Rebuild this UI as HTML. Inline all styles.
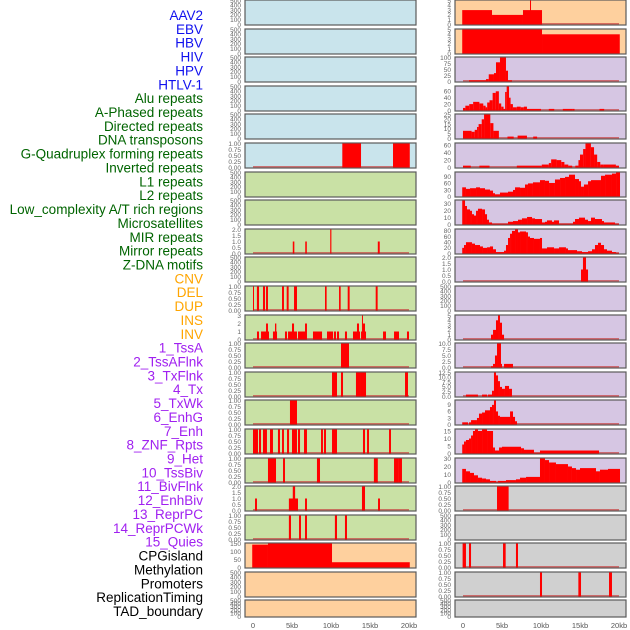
<!DOCTYPE html>
<html><head><meta charset="utf-8">
<style>
html,body{margin:0;padding:0;background:#fff;}
svg{display:block;font-family:"Liberation Sans",sans-serif;}
</style></head>
<body>
<svg id="chart" width="630" height="630" viewBox="0 0 630 630"></svg>
<script>
const labels = ["AAV2","EBV","HBV","HIV","HPV","HTLV-1","Alu repeats","A-Phased repeats","Directed repeats","DNA transposons","G-Quadruplex forming repeats","Inverted repeats","L1 repeats","L2 repeats","Low_complexity A/T rich regions","Microsatellites","MIR repeats","Mirror repeats","Z-DNA motifs","CNV","DEL","DUP","INS","INV","1_TssA","2_TssAFlnk","3_TxFlnk","4_Tx","5_TxWk","6_EnhG","7_Enh","8_ZNF_Rpts","9_Het","10_TssBiv","11_BivFlnk","12_EnhBiv","13_ReprPC","14_ReprPCWk","15_Quies","CPGisland","Methylation","Promoters","ReplicationTiming","TAD_boundary"];
const labelGroups = [0,0,0,0,0,0,1,1,1,1,1,1,1,1,1,1,1,1,1,2,2,2,2,2,3,3,3,3,3,3,3,3,3,3,3,3,3,3,3,4,4,4,4,4];
const groupColors = ["#1010ee","#006400","#ffa500","#a020f0","#000000"];
const trackBg = ["#c9e4ec","#c9e1a5","#fed09e","#d6c6e3","#d0d0d0"];
const xTickValues = [0,5,10,15,20];
const xTickLabels = ["0","5kb","10kb","15kb","20kb"];
const emptyTicks = ["0","100","200","300","400","500"];
const t01 = ["0.00","0.25","0.50","0.75","1.00"];
const t02 = ["0.0","0.5","1.0","1.5","2.0"];
const t05 = ["0","1","2","3","4","5"];

// left column tracks 0..21, right column tracks 22..43; segments [startKb,endKb,value]
const segHTLV1 = [[11.45,13.85,1],[17.95,20.1,1]];
const segDirected = [[5.1,5.3,1],[6.7,6.9,1],[9.9,10.05,2],[16.0,16.25,1]];
const segGQuad = [[0,0.1,1],[0.5,0.77,1],[1.28,1.54,1],[1.67,1.92,1],[3.72,3.97,1],[4.32,4.57,1],[5.26,5.64,1],[9.23,9.44,1],[11.03,11.24,1],[12.14,12.39,1],[15.73,15.98,1]];
const segInverted = [[0.51,0.77,1],[1.03,2.05,1],[1.67,1.92,2],[2.56,3.08,1],[2.82,2.99,2],[4.1,4.36,1],[4.49,5.64,1],[5.0,5.26,2],[5.77,6.79,1],[6.67,6.92,2],[7.69,8.85,1],[9.49,9.74,1],[9.74,10.26,1],[10.38,10.64,1],[10.77,11.03,1],[11.79,12.05,1],[12.82,13.72,1],[13.33,13.59,2],[13.85,14.49,1],[14.1,14.36,2],[13.97,14.1,3],[16.67,17.05,1],[18.08,18.72,1],[19.74,20,1]];
const segL1 = [[11.28,12.31,1]];
const segL2 = [[10.13,10.77,1],[11.28,11.54,1],[13.2,13.72,1],[13.72,14.49,1],[19.49,19.87,1]];
const segLowComp = [[4.74,5.64,1]];
const segMicrosat = [[0,0.13,1],[0.13,0.64,1],[0.77,1.03,1],[1.28,1.79,1],[2.18,2.56,1],[3.2,3.46,1],[3.72,3.97,1],[4.36,4.62,1],[5.0,5.64,1],[5.77,6.03,1],[6.54,6.92,1],[8.72,8.97,1],[9.1,9.36,1],[10.13,10.77,1],[14.1,14.36,1],[14.62,14.87,1],[17.44,17.69,1]];
const segMIR = [[1.92,2.95,1],[3.85,4.1,1],[8.2,8.59,1],[15.5,16.0,1],[18.08,18.6,1],[18.6,19.1,1]];
const segMirror = [[0.26,0.51,1],[4.6,5.77,1],[5.1,5.4,2],[6.67,6.92,1],[13.97,14.36,2],[16.03,16.28,1]];
const segZDNA = [[4.6,4.87,1],[5.9,6.15,1],[6.67,6.92,1],[10.5,10.77,1],[11.79,12.05,1]];
const segCNV = [[-0.1,1.92,143],[1.92,10.13,150],[10.13,20.1,33]];
const segINS = [[-0.1,3.72,3],[3.72,7.69,2],[7.69,10.13,3],[8.59,8.72,5]];
const segINV = [[-0.1,10.13,5],[10.13,20.1,4]];
const segTssA = [[0.77,2.95,5],[2.95,3.3,10],[3.3,3.97,30],[3.97,4.23,35],[4.23,4.74,80],[4.74,5.51,100],[5.51,5.77,45],[5.77,6.28,5]];
const segTssAFlnk = [[0,0.3,8],[0.3,0.8,15],[0.8,1.3,20],[1.3,2.1,27],[2.1,2.6,22],[2.6,2.9,15],[2.9,3.1,10],[3.1,3.4,25],[3.4,3.8,32],[3.8,4.2,55],[4.2,4.6,60],[4.6,4.9,22],[4.9,5.2,12],[5.2,5.4,5],[5.4,5.6,58],[5.6,5.9,75],[5.9,6.1,40],[6.1,6.4,20],[6.4,6.9,10],[6.9,7.4,12],[7.4,7.8,10],[7.8,8.2,12],[8.2,10.0,5],[11.0,11.7,5],[12.8,14.0,5],[14.0,14.3,5],[17.5,18.1,5]];
const segTxFlnk = [[0,1.1,8],[1.1,1.5,7],[1.5,1.8,9],[1.8,2.0,12],[2.0,2.4,15],[2.4,2.7,20],[2.7,3.5,25],[3.5,3.9,16],[3.9,4.6,8],[5.7,6.5,2],[7.0,8.2,3],[9.0,9.5,2]];
const segTx = [[0,1.0,5],[2.1,3.4,5],[6.9,10.1,5],[10.1,11.0,8],[11.0,11.3,12],[11.3,12.0,22],[12.0,12.6,20],[12.6,13.0,15],[13.0,13.5,8],[13.5,14.0,5],[14.4,14.8,5],[14.8,15.0,20],[15.0,15.4,35],[15.4,15.7,50],[15.7,16.4,65],[16.4,16.8,55],[16.8,17.2,35],[17.2,17.6,15],[17.6,18.0,8],[18.0,19.6,8],[19.6,20.0,5]];
const segTxWk = [[-0.1,0.38,42],[0.38,0.9,35],[0.9,1.67,38],[1.67,2.18,42],[2.18,2.82,38],[2.82,3.46,32],[3.46,3.85,27],[3.85,4.1,15],[4.1,4.74,10],[4.74,5.77,18],[5.77,6.41,22],[6.41,6.67,30],[6.67,7.31,42],[7.31,7.95,40],[7.95,8.33,55],[8.33,8.97,60],[8.97,9.87,65],[9.87,10.51,75],[10.51,11.03,72],[11.03,11.79,62],[11.79,12.44,78],[12.44,13.08,85],[13.08,13.59,90],[13.59,14.36,100],[14.36,14.87,80],[14.87,15.13,70],[15.13,15.51,45],[15.51,16.03,55],[16.03,16.41,70],[16.41,17.69,75],[17.69,18.21,95],[18.21,19.1,100],[19.1,19.62,105],[19.62,20.13,110]];
const segEnhG = [[-0.1,0.26,35],[0.26,0.51,27],[0.51,0.9,22],[0.9,1.15,20],[1.15,1.41,15],[1.41,1.67,13],[1.67,1.92,20],[1.92,2.44,23],[2.44,2.82,22],[2.82,3.08,15],[3.08,3.33,7],[3.33,3.72,3],[3.72,5.77,1],[5.77,6.41,4],[6.41,7.05,5],[7.05,7.56,7],[7.56,8.21,9],[8.21,8.85,11],[8.85,9.23,9],[9.23,10.13,8],[10.13,10.51,3],[10.51,10.77,4],[10.77,11.41,6],[11.41,11.67,4],[11.67,12.31,6],[12.31,14.1,1],[14.1,14.36,4],[14.36,14.87,8],[14.87,15.64,10],[15.64,16.03,7],[16.03,16.41,5],[16.41,16.92,10],[16.92,17.82,8],[17.82,18.08,5],[18.08,19.49,3],[19.49,20,1]];
const segEnh = [[-0.1,0.13,20],[0.13,0.38,30],[0.38,1.15,40],[1.15,1.54,35],[1.54,2.18,30],[2.18,2.56,25],[2.56,3.08,20],[3.08,3.46,22],[3.46,3.85,25],[3.85,4.23,15],[4.23,5.26,5],[5.26,5.51,10],[5.51,5.77,30],[5.77,6.03,55],[6.03,6.28,70],[6.28,6.67,80],[6.67,7.05,85],[7.05,7.31,75],[7.31,8.08,78],[8.08,8.33,75],[8.33,8.59,60],[8.59,9.1,55],[9.1,9.87,52],[9.87,10.13,55],[10.13,10.77,18],[10.77,11.67,22],[11.67,12.31,18],[12.31,13.2,22],[13.2,13.46,18],[13.46,14.62,12],[14.62,15.26,8],[15.26,16.03,5],[16.03,16.54,8],[16.54,16.92,15],[16.92,17.31,30],[17.31,17.69,38],[17.69,18.08,30],[18.08,18.46,15],[18.46,19.1,10],[19.1,19.62,5],[19.62,20,2]];
const segZNF = [[15.13,16.03,1],[15.38,15.77,2]];
const segTssBiv = [[3.59,3.85,1],[3.85,4.23,2],[4.23,4.49,4],[4.49,4.74,5],[4.74,5.0,3.5],[5.0,5.26,1]];
const segBivFlnk = [[3.59,3.85,0.5],[3.85,4.1,1.5],[4.1,4.36,5],[4.36,4.87,10],[4.87,5.0,1.5],[5.26,6.41,1.5]];
const segEnhBiv = [[0.38,1.92,1],[2.44,3.08,1],[3.2,3.72,1],[3.72,3.97,3],[3.97,4.23,12.5],[4.23,4.49,11],[4.49,4.74,8],[4.74,5.0,5],[5.0,5.38,4],[5.38,5.9,5.5],[5.9,6.28,4]];
const segReprPC = [[-0.1,0.64,1],[0.77,1.03,1],[1.03,1.79,2],[1.79,2.05,3],[2.05,2.44,5],[2.44,2.82,5.5],[2.82,3.46,6.5],[3.46,3.72,8],[3.72,3.97,9],[3.97,4.23,11],[4.23,4.49,6],[4.49,4.74,4],[4.74,6.03,3.5],[6.03,6.41,6],[6.41,6.67,3.5],[6.67,6.92,1.5]];
const segReprPCWk = [[-0.1,0.13,6],[0.13,0.38,8],[0.38,0.77,9],[0.77,1.03,10],[1.03,1.28,12],[1.28,1.54,15],[1.54,1.92,16],[1.92,2.44,15],[2.44,3.08,16],[3.08,3.85,15],[3.85,4.1,4],[4.1,4.62,2],[4.62,5.0,4],[5.0,7.44,4.5],[7.44,7.82,3.5],[7.82,9.1,2.5],[9.1,9.87,0.5],[9.87,17.44,2]];
const segQuies = [[-0.1,0.38,17],[0.38,0.9,14],[0.9,1.41,12],[1.41,1.92,9],[1.92,2.44,6],[2.44,2.95,5],[2.95,3.46,4],[3.46,4.23,2],[4.23,4.49,0.5],[4.49,5.51,2],[5.51,6.79,3],[6.79,7.31,4],[7.31,8.08,6],[8.08,9.87,7],[9.87,10.51,30],[10.51,11.03,28],[11.03,11.92,25],[11.92,13.46,23],[13.46,13.97,20],[13.97,14.49,18],[14.49,15.0,16],[15.0,17.05,18],[17.05,17.56,14],[17.56,18.59,16],[18.59,20.13,17]];
const segCpG = [[4.36,5.85,1]];
const segPromoters = [[-0.05,0.38,1],[0.77,1.03,1],[5.13,5.47,1],[6.79,7.05,1]];
const segReplTiming = [[9.87,10.13,1],[14.79,15.13,1],[18.72,19.1,1]];

const trackSegs = [null,null,null,null,null,segHTLV1,null,null,segDirected,null,segGQuad,segInverted,segL1,segL2,segLowComp,segMicrosat,segMIR,segMirror,segZDNA,segCNV,null,null,
  segINS,segINV,segTssA,segTssAFlnk,segTxFlnk,segTx,segTxWk,segEnhG,segEnh,segZNF,null,segTssBiv,segBivFlnk,segEnhBiv,segReprPC,segReprPCWk,segQuies,segCpG,null,segPromoters,segReplTiming,null];
const trackTicks = [emptyTicks,emptyTicks,emptyTicks,emptyTicks,emptyTicks,t01,emptyTicks,emptyTicks,t02,emptyTicks,t01,["0","1","2","3"],t01,t01,t01,t01,t01,t02,t01,["0","50","100","150"],emptyTicks,emptyTicks,
  t05,t05,["0","25","50","75","100"],["0","20","40","60"],["0","5","10","15","20","25"],["0","20","40","60"],["0","30","60","90"],["0","10","20","30"],["0","20","40","60","80"],t02,emptyTicks,t05,["0.0","2.5","5.0","7.5","10.0"],["0.0","2.5","5.0","7.5","10.0","12.5"],["0","3","6","9"],["0","5","10","15"],["0","10","20","30"],t01,emptyTicks,t01,t01,emptyTicks];
const trackBgIdx = [0,0,0,0,0,0,1,1,1,1,1,1,1,1,1,1,1,1,1,2,2,2, 2,2,3,3,3,3,3,3,3,3,3,3,3,3,3,3,3,4,4,4,4,4];

const NS = "http://www.w3.org/2000/svg";
const svg = document.getElementById("chart");
function mk(tag, attrs, parent){const e=document.createElementNS(NS,tag);for(const k in attrs)e.setAttribute(k,attrs[k]);(parent||svg).appendChild(e);return e;}

// labels
labels.forEach((t,i)=>{
  const el = mk("text",{x:203,y:15+i*13.86+5,"text-anchor":"end","font-size":"13.5",fill:groupColors[labelGroups[i]]});
  el.textContent = t;
  
  
});

const rowTops = i => i<21 ? Math.round(i*28.6) : 600;
const colPanelX = [245,455];
const colZeroX = [253,463];
const kbPx = 7.8;
function xScale(col,kb){return colZeroX[col]+kb*kbPx;}

for(let t=0;t<44;t++){
  const col = t<22?0:1, row = t%22;
  const top = rowTops(row), h = row===21?17:25;
  const g = mk("g",{});
  
  
  mk("rect",{x:colPanelX[col],y:top,width:171,height:h,fill:trackBg[trackBgIdx[t]],stroke:"#5a5a5a","stroke-width":1.2},g);
  const segs = trackSegs[t];
  const ticks = trackTicks[t];
  const base = top+h-0.5;
  let ymax;
  if(segs){ ymax = Math.max(...segs.map(s=>s[2])); }
  else { ymax = parseFloat(ticks[ticks.length-1]); }
  const yScale = v => base - v/ymax*(h-1);
  if(segs){
    mk("rect",{x:xScale(col,0),y:base-1.5,width:20*kbPx,height:1.5,fill:"#c84040",opacity:0.7},g);
    segs.forEach(s=>{
      const x1=xScale(col,Math.max(s[0],-0.1)), x2=xScale(col,s[1]);
      const r = mk("rect",{x:x1,y:yScale(s[2]),width:Math.max(1,x2-x1),height:base-yScale(s[2]),fill:"#ff0000"},g);
      
      
    });
  }
  ticks.forEach(lbl=>{
    const v = parseFloat(lbl);
    const y = yScale(v);
    const tx = mk("text",{x:colPanelX[col]-4,y:y+2.3,"text-anchor":"end","font-size":"6.5",fill:"#666"},g);
    tx.textContent = lbl;
    
    
  });
}
// x axes
[0,1].forEach(col=>{
  xTickValues.forEach((v,i)=>{
    const tx = mk("text",{x:xScale(col,v),y:628,"text-anchor":"middle","font-size":"7.5",fill:"#555"});
    tx.textContent = xTickLabels[i];
    
    
  });
});
</script>
</body></html>
